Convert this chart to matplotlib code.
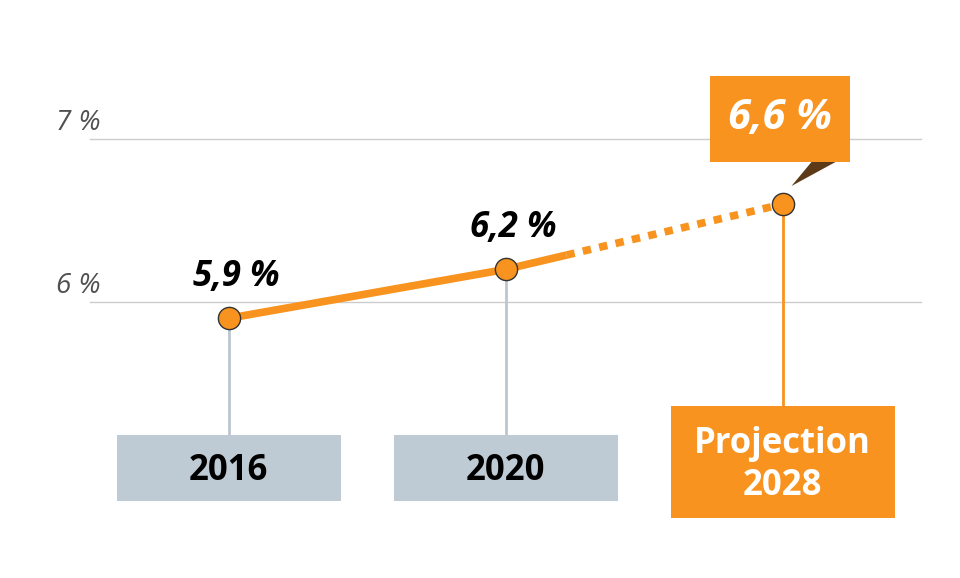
import matplotlib
matplotlib.use("Agg")
import matplotlib.pyplot as plt
from matplotlib.patches import Rectangle, Polygon

plt.rcParams["font.family"] = ["Open Sans", "DejaVu Sans"]

years = ["2016", "2020", "Projection\n2028"]
values = [5.9, 6.2, 6.6]
value_labels = ["5,9 %", "6,2 %", "6,6 %"]
grid_values = [6, 7]
grid_labels = ["6 %", "7 %"]

ORANGE = "#f7931e"
GREY_BOX = "#bfcbd4"
GREY_LINE = "#bcc6cf"

W, H = 960, 578
fig = plt.figure(figsize=(W / 100, H / 100), dpi=100)
ax = fig.add_axes([0, 0, 1, 1])
ax.axis("off")

# pixel layout -> data mapping (category spacing 277px, 1 % = 163px)
X0, XS = 90, 277
Y6, YS = 302, 163
ax.set_xlim(-0.5 - X0 / XS, -0.5 + (W - X0) / XS)
ax.set_ylim(6 - (H - Y6) / YS, 6 + Y6 / YS)


def py(p):
    return 6 - (p - Y6) / YS


def pw(p):
    return p / XS


xs = list(range(len(values)))

# gridlines + labels
for v, lab in zip(grid_values, grid_labels):
    ax.plot([-0.5, 2.5], [v, v], color="#cccccc", lw=1, zorder=1)
    ax.text(-0.5 + pw(11), v + 16 / YS, lab, ha="right", va="center",
            fontsize=20, style="italic", color="#505050")

# drop lines and category boxes
box_tops = [py(435), py(435), py(406)]
box_bots = [py(501), py(501), py(518)]
for i, (x, v) in enumerate(zip(xs, values)):
    last = i == len(values) - 1
    ax.plot([x, x], [v, box_tops[i]], color=ORANGE if last else GREY_LINE,
            lw=2, zorder=2)
    ax.add_patch(Rectangle((x - pw(112), box_bots[i]), pw(224),
                           box_tops[i] - box_bots[i],
                           facecolor=ORANGE if last else GREY_BOX,
                           edgecolor="none", zorder=3))
    ax.text(x, (box_tops[i] + box_bots[i]) / 2 - 3 / YS, years[i],
            ha="center", va="center", fontsize=25, fontweight="bold",
            color="white" if last else "black", linespacing=1.25, zorder=4)

# solid part of the line, then dotted projection
frac = 0.22
xm = xs[1] + frac * (xs[2] - xs[1])
ym = values[1] + frac * (values[2] - values[1])
ax.plot([xs[0], xs[1], xm], [values[0], values[1], ym], color=ORANGE,
        lw=5.5, solid_capstyle="butt", zorder=5)
ax.plot([xm, xs[2]], [ym, values[2]], color=ORANGE, lw=5.5,
        linestyle=(0, (1.1, 1.1)), dash_capstyle="butt", zorder=5)
ax.plot(xs, values, "o", ms=16, mfc=ORANGE, mec="#333333", mew=1, zorder=6)

# value labels
for x, v, lab in zip(xs[:2], values[:2], value_labels[:2]):
    ax.text(x + pw(8), v + 41 / YS, lab, ha="center", va="center",
            fontsize=25, fontweight="bold", style="italic", color="black")

# callout for the projection
bx0, bx1 = xs[2] - pw(73), xs[2] + pw(67)
by0, by1 = py(162), py(76)
ax.add_patch(Polygon([(xs[2] + pw(29), by0), (xs[2] + pw(53), by0),
                      (xs[2] + pw(9), py(186))], closed=True,
                     facecolor="#5c3a17", edgecolor="none", zorder=6))
ax.add_patch(Rectangle((bx0, by0), bx1 - bx0, by1 - by0, facecolor=ORANGE,
                       edgecolor="none", zorder=7))
ax.text((bx0 + bx1) / 2, (by0 + by1) / 2, value_labels[2], ha="center",
        va="center", fontsize=30, fontweight="bold", style="italic",
        color="white", zorder=8)

fig.savefig("out.png", dpi=100, facecolor="white")
